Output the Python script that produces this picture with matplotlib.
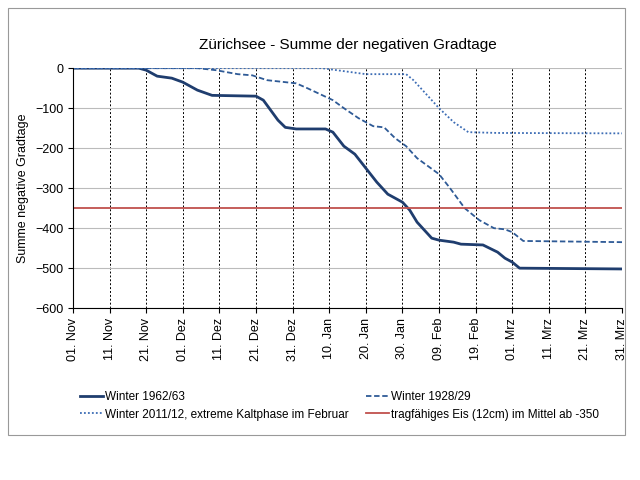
import matplotlib.pyplot as plt
from matplotlib.patches import Rectangle

plt.rcParams["font.family"] = "Liberation Sans"

# day offsets from 01 Nov (Feb = 28 days)
days_1962 = [0, 18, 20, 23, 27, 30, 34, 38, 50, 52, 56, 58, 61, 69, 71, 74, 77, 80, 83, 86, 90, 92, 94, 98, 100, 104, 106, 112, 116, 118, 120, 122, 150]
vals_1962 = [0, 0, -5, -20, -25, -35, -55, -68, -70, -80, -130, -148, -152, -152, -160, -195, -215, -250, -285, -315, -335, -355, -385, -425, -430, -435, -440, -442, -460, -475, -485, -500, -502]

days_1928 = [0, 34, 39, 45, 49, 53, 58, 61, 64, 71, 74, 78, 82, 85, 88, 91, 94, 97, 100, 103, 107, 111, 115, 118, 120, 123, 150]
vals_1928 = [0, 0, -5, -15, -18, -30, -35, -38, -50, -80, -100, -125, -145, -148, -175, -195, -225, -245, -265, -300, -350, -380, -400, -403, -410, -432, -435]

days_2011 = [0, 68, 72, 76, 80, 91, 93, 96, 100, 104, 108, 116, 150]
vals_2011 = [0, 0, -5, -10, -15, -15, -30, -60, -100, -135, -160, -162, -163]

tick_days = list(range(0, 151, 10))
tick_labels = ["01. Nov", "11. Nov", "21. Nov", "01. Dez", "11. Dez", "21. Dez", "31. Dez", "10. Jan",
               "20. Jan", "30. Jan", "09. Feb", "19. Feb", "01. Mrz", "11. Mrz", "21. Mrz", "31. Mrz"]
ice_limit = -350

fig = plt.figure(figsize=(6.4, 4.8), dpi=100)
fig.patches.append(Rectangle((0.013, 0.094), 0.964, 0.889, transform=fig.transFigure,
                             fill=False, edgecolor="#999999", linewidth=0.8))
ax = fig.add_axes([0.114, 0.358, 0.858, 0.5])

blue = "#1f3d6e"
ax.plot(days_1962, vals_1962, color=blue, linewidth=2, label="Winter 1962/63")
ax.plot(days_1928, vals_1928, color="#2e5a96", linewidth=1.3, linestyle=(0, (3, 1.5)), label="Winter 1928/29")
ax.plot(days_2011, vals_2011, color="#3d6db5", linewidth=1.3, linestyle=(0, (1, 1.2)),
        label="Winter 2011/12, extreme Kaltphase im Februar")
ax.axhline(ice_limit, color="#c0504d", linewidth=1.3, label="tragfähiges Eis (12cm) im Mittel ab -350")

ax.set_xlim(0, 150)
ax.set_ylim(-600, 0)
ax.set_yticks(range(-600, 1, 100))
ax.set_xticks(tick_days)
ax.set_xticklabels(tick_labels, rotation=90, fontsize=9)
ax.tick_params(axis="y", labelsize=9)
ax.grid(axis="y", color="#bbbbbb", linewidth=0.8)
for d in tick_days[1:]:
    ax.axvline(d, color="black", linestyle=(0, (2, 2)), linewidth=0.7, zorder=0)
for s in ["top", "right"]:
    ax.spines[s].set_visible(False)
ax.set_ylabel("Summe negative Gradtage", fontsize=9)
ax.set_title("Zürichsee - Summe der negativen Gradtage", fontsize=11, pad=14)

h, l = ax.get_legend_handles_labels()
order = [0, 2, 1, 3]
fig.legend([h[i] for i in order], [l[i] for i in order], ncol=2, frameon=False, fontsize=8.5,
           loc="center", bbox_to_anchor=(0.53, 0.155), handlelength=2.0, handletextpad=0.1,
           columnspacing=1.5)

fig.savefig("out.png", dpi=100)
